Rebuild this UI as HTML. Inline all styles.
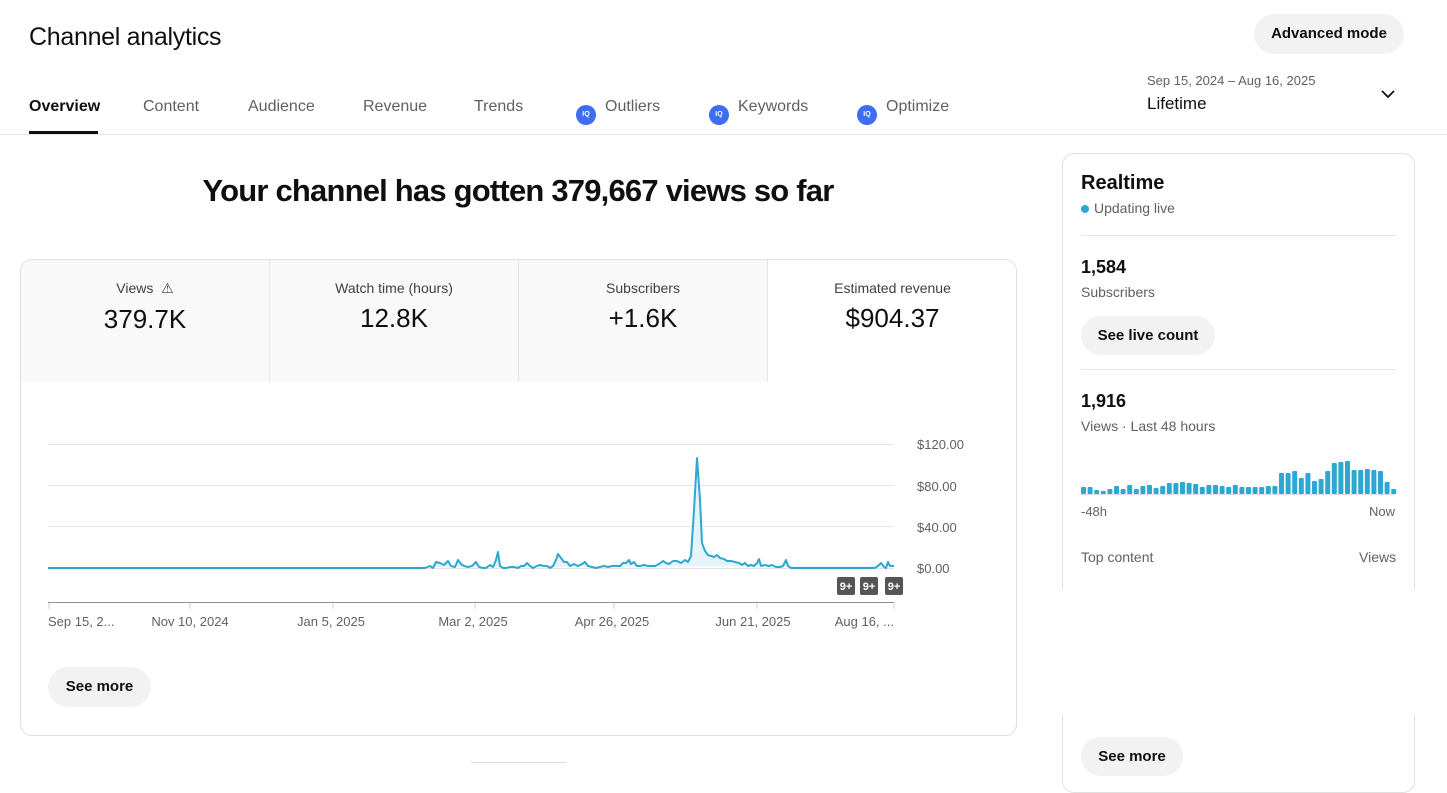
<!DOCTYPE html>
<html><head><style>
*{box-sizing:border-box;margin:0;padding:0}
body{width:1447px;height:781px;background:#fff;font-family:"Liberation Sans",Arial,sans-serif;color:#0f0f0f;position:relative;overflow:hidden}
.a{position:absolute}
.tab{position:absolute;top:98px;font-size:16px;color:#606060;line-height:18px}
.ic{display:inline-block;width:20px;height:20px;border-radius:50%;background:#3d6df2;vertical-align:-5px;margin-right:9px;color:#fff;font-size:7px;font-weight:bold;text-align:center;line-height:20px}
.met{position:absolute;top:0;width:249px;height:122px;background:#f9f9f9;text-align:center;border-right:1px solid #e5e5e5}
.met .l{margin-top:20px;font-size:14px;color:#3f3f3f}
.met .v{margin-top:7px;font-size:26px}
.btn{position:absolute;background:#f2f2f2;border-radius:20px;font-size:15px;font-weight:bold;text-align:center}
.g{fill:#606060;font-size:13px;font-family:"Liberation Sans",Arial,sans-serif}
</style></head><body>
<div class="a" style="left:29px;top:23px;font-size:25px;letter-spacing:-0.3px">Channel analytics</div>
<div class="btn" style="left:1254px;top:14px;width:150px;height:40px;line-height:40px">Advanced mode</div>
<div class="tab" style="left:29px;color:#0f0f0f;font-weight:bold">Overview</div>
<div class="a" style="left:29px;top:131px;width:69px;height:3px;background:#0f0f0f"></div>
<div class="tab" style="left:143px">Content</div>
<div class="tab" style="left:248px">Audience</div>
<div class="tab" style="left:363px">Revenue</div>
<div class="tab" style="left:474px">Trends</div>
<div class="tab" style="left:576px"><span class="ic">IQ</span>Outliers</div>
<div class="tab" style="left:709px"><span class="ic">IQ</span>Keywords</div>
<div class="tab" style="left:857px"><span class="ic">IQ</span>Optimize</div>
<div class="a" style="left:1147px;top:73px;font-size:13px;color:#606060">Sep 15, 2024 – Aug 16, 2025</div>
<div class="a" style="left:1147px;top:94px;font-size:17px">Lifetime</div>
<svg class="a" style="left:1380px;top:88px" width="16" height="12"><path d="M2 3l6 6 6-6" stroke="#0f0f0f" stroke-width="1.8" fill="none"/></svg>
<div class="a" style="left:0;top:134px;width:1447px;height:1px;background:#e5e5e5"></div>
<div class="a" style="left:20px;top:173px;width:996px;text-align:center;font-size:31px;font-weight:bold;letter-spacing:-0.8px">Your channel has gotten 379,667 views so far</div>
<div class="a" style="left:20px;top:259px;width:997px;height:477px;border:1px solid #e0e0e0;border-radius:12px;overflow:hidden">
<div class="met" style="left:0"><div class="l">Views &nbsp;⚠</div><div class="v">379.7K</div></div>
<div class="met" style="left:249px"><div class="l">Watch time (hours)</div><div class="v">12.8K</div></div>
<div class="met" style="left:498px"><div class="l">Subscribers</div><div class="v">+1.6K</div></div>
<div class="met" style="left:747px;background:#fff;border:none"><div class="l">Estimated revenue</div><div class="v">$904.37</div></div>
</div>
<svg class="a" style="left:0;top:0" width="1447" height="781" viewBox="0 0 1447 781">
<g stroke="#e5e5e5"><line x1="48" y1="444.5" x2="894" y2="444.5"/><line x1="48" y1="485.5" x2="894" y2="485.5"/><line x1="48" y1="526.5" x2="894" y2="526.5"/><line x1="48" y1="568.5" x2="894" y2="568.5"/></g>
<line x1="48" y1="602.5" x2="894" y2="602.5" stroke="#909090"/>
<g stroke="#ccc"><line x1="49" y1="603" x2="49" y2="609"/><line x1="190" y1="603" x2="190" y2="609"/><line x1="333" y1="603" x2="333" y2="609"/><line x1="475" y1="603" x2="475" y2="609"/><line x1="614" y1="603" x2="614" y2="609"/><line x1="757" y1="603" x2="757" y2="609"/><line x1="894" y1="603" x2="894" y2="609"/></g>
<polyline fill="#e6f4fa" stroke="#2ea8d1" stroke-width="2" stroke-linejoin="round" points="48,568 425,568 430,566 433,568 436,562 440,563 444,565 448,561 451,566 455,567 458,560 461,564 464,566 468,567 472,566 476,562 479,567 483,568 486,568 490,565 493,567 496,560 498,552 500,566 503,568 506,568 510,567 514,567 518,568 521,566 524,566 527,563 530,566 533,568 537,566 540,565 544,566 547,566 550,568 553,566 556,560 558,554 561,558 564,562 567,562 570,566 574,564 578,566 582,564 585,562 588,566 592,567 596,568 600,567 604,566 608,567 612,566 616,566 620,566 623,563 626,563 629,560 631,564 634,562 637,566 640,566 644,565 648,566 651,566 655,566 659,564 663,561 666,563 669,564 673,561 677,561 681,563 685,560 688,562 691,556 694,510 697,458 700,500 702,543 705,551 708,555 711,556 714,557 717,555 720,558 724,559 727,561 731,561 735,562 739,563 742,565 745,563 748,566 751,565 754,566 757,563 759,559 761,566 765,565 769,566 772,565 776,567 780,567 783,566 786,560 788,566 791,568 875,568 878,566 881,563 884,567 886,568 888,562 890,566 894,566"/>
<g class="g"><text x="917" y="449">$120.00</text><text x="917" y="491">$80.00</text><text x="917" y="532">$40.00</text><text x="917" y="573">$0.00</text>
<text x="48" y="626">Sep 15, 2...</text><text x="190" y="626" text-anchor="middle">Nov 10, 2024</text><text x="331" y="626" text-anchor="middle">Jan 5, 2025</text><text x="473" y="626" text-anchor="middle">Mar 2, 2025</text><text x="612" y="626" text-anchor="middle">Apr 26, 2025</text><text x="753" y="626" text-anchor="middle">Jun 21, 2025</text><text x="894" y="626" text-anchor="end">Aug 16, ...</text></g>
<g fill="#555"><rect x="837" y="577" width="18" height="18" rx="2"/><rect x="860" y="577" width="18" height="18" rx="2"/><rect x="885" y="577" width="18" height="18" rx="2"/></g>
<g fill="#fff" font-size="11" font-weight="bold" text-anchor="middle" font-family="Liberation Sans,Arial"><text x="846" y="590">9+</text><text x="869" y="590">9+</text><text x="894" y="590">9+</text></g>
<g fill="#2ea8d1" id="bars"></g>
<line x1="1081" y1="494.5" x2="1395" y2="494.5" stroke="#ddd"/>
</svg>
<div class="btn" style="left:48px;top:667px;width:103px;height:40px;line-height:40px">See more</div>
<div class="a" style="left:471px;top:762px;width:95px;height:1px;background:#ddd"></div>
<div class="a" style="left:1062px;top:153px;width:353px;height:640px;border:1px solid #e0e0e0;border-radius:12px"></div>
<div class="a" style="left:1081px;top:172px;font-size:20px;font-weight:bold">Realtime</div>
<div class="a" style="left:1081px;top:200px;font-size:14px;color:#606060"><span style="display:inline-block;width:8px;height:8px;border-radius:50%;background:#2ea8d1;margin-right:5px"></span>Updating live</div>
<div class="a" style="left:1081px;top:235px;width:315px;height:1px;background:#e5e5e5"></div>
<div class="a" style="left:1081px;top:257px;font-size:18px;font-weight:bold">1,584</div>
<div class="a" style="left:1081px;top:284px;font-size:14px;color:#606060">Subscribers</div>
<div class="btn" style="left:1081px;top:316px;width:134px;height:39px;line-height:39px">See live count</div>
<div class="a" style="left:1081px;top:369px;width:315px;height:1px;background:#e5e5e5"></div>
<div class="a" style="left:1081px;top:391px;font-size:18px;font-weight:bold">1,916</div>
<div class="a" style="left:1081px;top:418px;font-size:14px;color:#606060">Views · Last 48 hours</div>
<div class="a" style="left:1081px;top:504px;font-size:13px;color:#606060">-48h</div>
<div class="a" style="left:1369px;top:504px;font-size:13px;color:#606060">Now</div>
<div class="a" style="left:1081px;top:549px;font-size:14px;color:#606060">Top content</div>
<div class="a" style="left:1359px;top:549px;font-size:14px;color:#606060">Views</div>
<div class="a" style="left:1056px;top:590px;width:370px;height:125px;background:#fff"></div>
<div class="btn" style="left:1081px;top:737px;width:102px;height:39px;line-height:39px">See more</div>
<script>
var h=[7,7,4,3,5,8,5,9,5,8,9,6,8,11,11,12,11,10,7,9,9,8,7,9,7,7,7,7,8,8,21,21,23,16,21,13,15,23,31,32,33,24,24,25,24,23,12,5];
var g=document.getElementById('bars'),s='';
for(var i=0;i<48;i++){var x=1081+i*6.6;s+='<rect x="'+x+'" y="'+(494-h[i])+'" width="5" height="'+h[i]+'" rx="1"/>';}
g.innerHTML=s;
</script>
</body></html>
